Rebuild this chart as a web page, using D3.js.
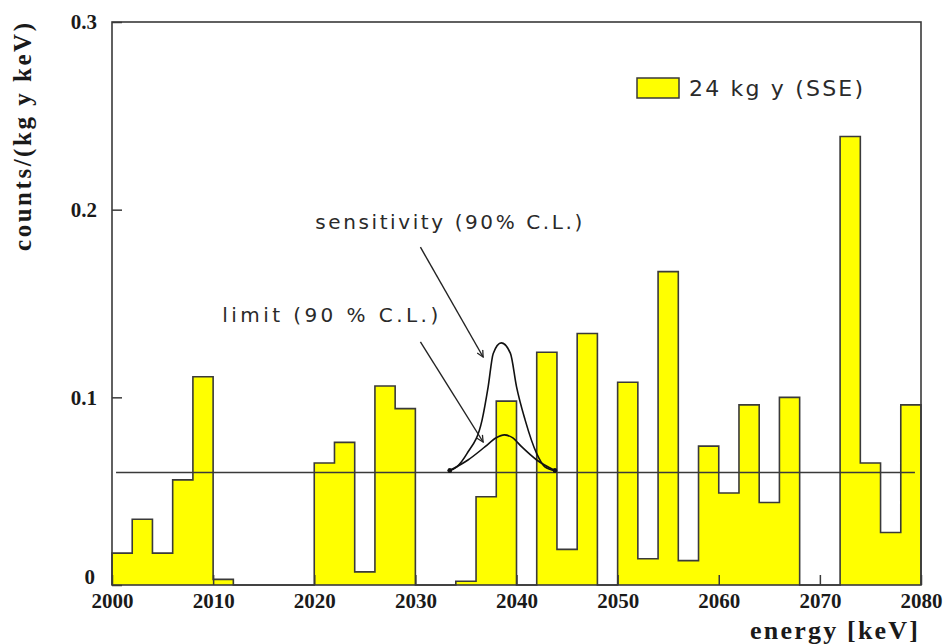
<!DOCTYPE html>
<html>
<head>
<meta charset="utf-8">
<script src="https://cdn.jsdelivr.net/npm/d3@7"></script>
<style>
    body { margin: 0; background: #fff; }
    svg { display: block; }
</style>
</head>
<body>
<div id="chart"></div>
<script>
'use strict';

// lower edge of each 2 keV bin
var energy = [2000, 2002, 2004, 2006, 2008, 2010, 2012, 2014, 2016, 2018,
              2020, 2022, 2024, 2026, 2028, 2030, 2032, 2034, 2036, 2038,
              2040, 2042, 2044, 2046, 2048, 2050, 2052, 2054, 2056, 2058,
              2060, 2062, 2064, 2066, 2068, 2070, 2072, 2074, 2076, 2078];
var counts = [0.017, 0.035, 0.017, 0.056, 0.111, 0.003, 0, 0, 0, 0,
              0.065, 0.076, 0.007, 0.106, 0.094, 0, 0, 0.002, 0.047, 0.098,
              0, 0.124, 0.019, 0.134, 0, 0.108, 0.014, 0.167, 0.013, 0.074,
              0.049, 0.096, 0.044, 0.100, 0, 0, 0.239, 0.065, 0.028, 0.096];
var binWidth = 2;

// flat background level
var bkgRange = [2000.4, 2079.4];
var bkgLevel = 0.06;

// curves
var sensEnergy = [2033.4, 2034.1, 2035.1, 2036.6, 2037.2, 2037.7, 2038.5,
                  2039.4, 2040.0, 2040.85, 2042.0, 2042.8, 2043.8];
var sensValue  = [0.061, 0.063, 0.070, 0.088, 0.1057, 0.1234, 0.129,
                  0.1234, 0.1057, 0.088, 0.070, 0.063, 0.061];
var limEnergy = [2033.4, 2035.2, 2036.9, 2038.0, 2038.8, 2039.6, 2040.5, 2042.0, 2043.8];
var limValue  = [0.061, 0.0666, 0.0737, 0.0785, 0.080, 0.0785, 0.0737, 0.0666, 0.061];

var xTicks = [2000, 2010, 2020, 2030, 2040, 2050, 2060, 2070, 2080];
var yTicks = [0, 0.1, 0.2, 0.3];
var yTickLabels = ['0', '0.1', '0.2', '0.3'];

var legendLabel = '24 kg y (SSE)';
var xTitle = 'energy [keV]';
var yTitle = 'counts/(kg y keV)';

var annotations = [
    {text: 'sensitivity (90% C.L.)', x: 2020.1, y: 0.1934, len: 267,
     from: [2030.5, 0.180], to: [2036.7, 0.1215]},
    {text: 'limit (90 % C.L.)', x: 2010.9, y: 0.1439, len: 216,
     from: [2030.5, 0.1295], to: [2036.7, 0.0762]}
];

var serif = "'Liberation Serif', 'DejaVu Serif', serif";
var sans = "'DejaVu Sans', 'Liberation Sans', sans-serif";
var ink = '#3a3a3a';

var svg = d3.select('#chart')
    .append('svg')
        .attr('width', 945)
        .attr('height', 644);

var margin = {top: 22, right: 24, bottom: 59, left: 112},
    width = svg.attr('width') - margin.left - margin.right,
    height = svg.attr('height') - margin.top - margin.bottom,
    g = svg.append('g')
        .attr('transform', 'translate(' + margin.left + ',' + margin.top + ')');

var xScale = d3.scaleLinear()
    .domain([2000, 2080])
    .range([0, width]);

var yScale = d3.scaleLinear()
    .domain([0, 0.3])
    .range([height, 0]);

// histogram as a filled step outline
var steps = energy.map(function(e, i) { return [e, counts[i]]; });
steps.push([energy[energy.length - 1] + binWidth, counts[counts.length - 1]]);

g.append('path')
    .datum(steps)
    .attr('fill', '#ffff00')
    .attr('d', d3.area()
        .curve(d3.curveStepAfter)
        .x(function(d) { return xScale(d[0]); })
        .y0(yScale(0))
        .y1(function(d) { return yScale(d[1]); }));

var outline = [[energy[0], 0]].concat(steps, [[steps[steps.length - 1][0], 0]]);
g.append('path')
    .datum(outline)
    .attr('fill', 'none')
    .attr('stroke', ink)
    .attr('stroke-width', 1.6)
    .attr('d', d3.line()
        .curve(d3.curveStepAfter)
        .x(function(d) { return xScale(d[0]); })
        .y(function(d) { return yScale(d[1]); }));

// background line
g.append('line')
    .attr('x1', xScale(bkgRange[0]))
    .attr('x2', xScale(bkgRange[1]))
    .attr('y1', yScale(bkgLevel))
    .attr('y2', yScale(bkgLevel))
    .attr('stroke', ink)
    .attr('stroke-width', 1.5);

// peak curves
var curve = d3.line()
    .curve(d3.curveMonotoneX)
    .x(function(d) { return xScale(d[0]); })
    .y(function(d) { return yScale(d[1]); });

[[sensEnergy, sensValue], [limEnergy, limValue]].forEach(function(c) {
    var pts = c[0].map(function(e, i) { return [e, c[1][i]]; });
    g.append('path')
        .datum(pts)
        .attr('fill', 'none')
        .attr('stroke', '#111')
        .attr('stroke-width', 1.6)
        .attr('d', curve);
    g.selectAll(null)
        .data([pts[0], pts[pts.length - 1]])
        .enter().append('circle')
            .attr('cx', function(d) { return xScale(d[0]); })
            .attr('cy', function(d) { return yScale(d[1]); })
            .attr('r', 2.2)
            .attr('fill', '#111');
});

// axes, ticks pointing inward
var xAxis = d3.axisBottom(xScale)
    .tickValues(xTicks)
    .tickFormat(d3.format('d'))
    .tickSizeInner(-10)
    .tickSizeOuter(0)
    .tickPadding(8);

var yAxis = d3.axisLeft(yScale)
    .tickValues(yTicks)
    .tickFormat(function(d, i) { return yTickLabels[i]; })
    .tickSizeInner(-10)
    .tickSizeOuter(0)
    .tickPadding(15);

var gx = g.append('g')
    .attr('class', 'axis axis--x')
    .attr('transform', 'translate(0,' + height + ')')
    .call(xAxis);

var gy = g.append('g')
    .attr('class', 'axis axis--y')
    .call(yAxis);

[gx, gy].forEach(function(ax) {
    ax.select('.domain').remove();
    ax.selectAll('.tick line')
        .attr('stroke', ink)
        .attr('stroke-width', 1.5);
    ax.selectAll('.tick text')
        .attr('fill', '#1a1a1a')
        .style('font-family', serif)
        .style('font-weight', 'bold')
        .style('font-size', '21px');
});

// the zero label sits a little higher, above the 2000 label
gy.selectAll('.tick text')
    .filter(function(d) { return d === 0; })
    .attr('dy', '-0.05em')
    .attr('x', -17);

// frame
g.append('rect')
    .attr('x', 0)
    .attr('y', 0)
    .attr('width', width)
    .attr('height', height)
    .attr('fill', 'none')
    .attr('stroke', ink)
    .attr('stroke-width', 1.6);

// legend
g.append('rect')
    .attr('x', 525)
    .attr('y', 56)
    .attr('width', 42)
    .attr('height', 20)
    .attr('fill', '#ffff00')
    .attr('stroke', ink)
    .attr('stroke-width', 1.5);

g.append('text')
    .attr('x', 577)
    .attr('y', 66)
    .attr('dy', '0.36em')
    .attr('textLength', 174)
    .attr('lengthAdjust', 'spacing')
    .attr('fill', '#2a2a2a')
    .style('font-family', sans)
    .style('font-size', '22px')
    .text(legendLabel);

// annotations with arrows
svg.append('defs').append('marker')
    .attr('id', 'head')
    .attr('viewBox', '0 0 10 10')
    .attr('refX', 9)
    .attr('refY', 5)
    .attr('markerWidth', 8)
    .attr('markerHeight', 8)
    .attr('markerUnits', 'userSpaceOnUse')
    .attr('orient', 'auto')
    .append('path')
        .attr('d', 'M1,1 L9,5 L1,9')
        .attr('fill', 'none')
        .attr('stroke', '#222')
        .attr('stroke-width', 1.6);

annotations.forEach(function(a) {
    g.append('text')
        .attr('x', xScale(a.x))
        .attr('y', yScale(a.y))
        .attr('dy', '0.36em')
        .attr('textLength', a.len)
        .attr('lengthAdjust', 'spacing')
        .attr('fill', '#2a2a2a')
        .style('font-family', sans)
        .style('font-size', '20px')
        .text(a.text);
    g.append('line')
        .attr('x1', xScale(a.from[0]))
        .attr('y1', yScale(a.from[1]))
        .attr('x2', xScale(a.to[0]))
        .attr('y2', yScale(a.to[1]))
        .attr('stroke', '#222')
        .attr('stroke-width', 1.4)
        .attr('marker-end', 'url(#head)');
});

// axis titles
svg.append('text')
    .attr('x', 918)
    .attr('y', 639)
    .attr('text-anchor', 'end')
    .attr('textLength', 168)
    .attr('lengthAdjust', 'spacing')
    .attr('fill', '#1a1a1a')
    .style('font-family', serif)
    .style('font-weight', 'bold')
    .style('font-size', '26px')
    .text(xTitle);

svg.append('text')
    .attr('transform', 'translate(31,137) rotate(-90)')
    .attr('text-anchor', 'middle')
    .attr('textLength', 228)
    .attr('lengthAdjust', 'spacing')
    .attr('fill', '#1a1a1a')
    .style('font-family', serif)
    .style('font-weight', 'bold')
    .style('font-size', '25px')
    .text(yTitle);
</script>
</body>
</html>
